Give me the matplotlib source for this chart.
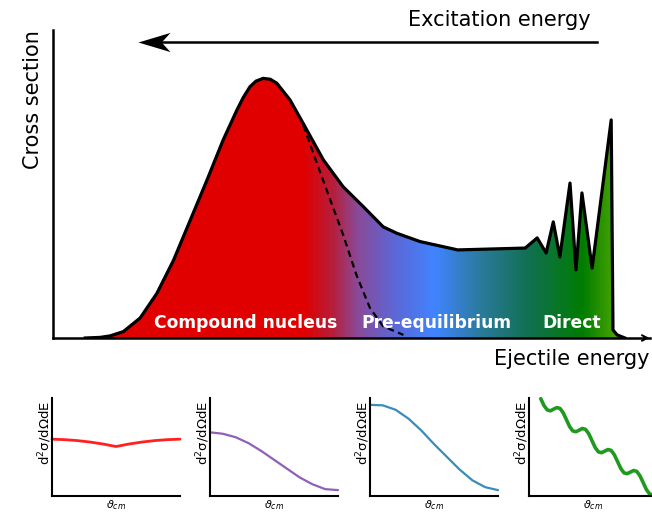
import numpy as np
import matplotlib.pyplot as plt
from matplotlib.colors import LinearSegmentedColormap
from matplotlib.patches import Polygon
from matplotlib.path import Path

# ---- main spectrum: ejectile energy vs cross section (arbitrary units, 0-100)
energy = [5.4, 7.9, 9.6, 11.8, 14.6, 17.4, 20.2, 23.0, 25.8, 28.5, 30.8, 31.9,
          33.0, 34.0, 35.2, 36.4, 37.5, 39.7, 41.9, 45.3, 48.6, 52.0, 55.3,
          57.6, 61.5, 67.8, 79.1, 81.1, 82.6, 83.8, 84.9, 86.6, 87.6, 88.6,
          90.3, 93.5, 93.8, 94.5, 95.8]
xsec = [0.0, 0.2, 0.7, 2.1, 6.5, 14.5, 25.3, 38.3, 51.3, 64.3, 74.0, 78.2,
        81.6, 83.4, 84.3, 84.0, 82.7, 77.3, 69.7, 57.8, 49.1, 42.6, 36.1,
        34.0, 31.3, 28.6, 29.2, 32.5, 27.6, 37.7, 26.3, 50.3, 22.1, 47.1,
        22.7, 70.8, 2.6, 1.0, 0.0]

# compound nucleus component (dashed)
cn_energy = [41.9, 43.6, 45.3, 47.0, 48.6, 50.8, 53.1, 55.3, 58.7]
cn_xsec = [69.1, 60.0, 50.9, 41.9, 33.5, 20.6, 9.7, 3.8, 1.0]

region_labels = ['Compound nucleus', 'Pre-equilibrium', 'Direct']
region_x = [32.2, 64.2, 86.8]

# ---- angular distributions (theta normalised 0-1)
theta = [0, 0.1, 0.2, 0.3, 0.4, 0.5, 0.6, 0.7, 0.8, 0.9, 1.0]
ang_cn = [0.58, 0.575, 0.565, 0.55, 0.53, 0.505, 0.53, 0.55, 0.565, 0.575, 0.58]
ang_pe_low = [0.65, 0.635, 0.60, 0.54, 0.46, 0.37, 0.28, 0.19, 0.12, 0.07, 0.06]
ang_pe_high = [0.93, 0.925, 0.88, 0.79, 0.67, 0.53, 0.40, 0.27, 0.16, 0.09, 0.06]
theta_dir = [0.092, 0.117, 0.142, 0.167, 0.192, 0.217, 0.242, 0.267, 0.292,
             0.317, 0.342, 0.367, 0.392, 0.417, 0.442, 0.467, 0.492, 0.517,
             0.542, 0.567, 0.592, 0.617, 0.642, 0.667, 0.692, 0.717, 0.742,
             0.767, 0.792, 0.817, 0.842, 0.867, 0.892, 0.917, 0.942, 0.967]
ang_dir = [0.993, 0.923, 0.879, 0.869, 0.886, 0.902, 0.894, 0.849, 0.780,
           0.709, 0.664, 0.656, 0.672, 0.689, 0.680, 0.635, 0.565, 0.495,
           0.450, 0.442, 0.458, 0.474, 0.465, 0.420, 0.351, 0.281, 0.236,
           0.228, 0.244, 0.260, 0.251, 0.206, 0.137, 0.066, 0.021, 0.013]

# colour along the energy axis
grad_stops = [(0.0, '#e00000'), (0.42, '#e00000'), (0.47, '#b4203e'),
              (0.51, '#8a4a98'), (0.57, '#5e66d4'), (0.64, '#4084ff'),
              (0.72, '#2a7a9a'), (0.80, '#107050'), (0.89, '#007d00'),
              (0.95, '#50a800'), (1.0, '#50a800')]

fig = plt.figure(figsize=(6.52, 5.12), dpi=100)
W, H = 652, 512

ax = fig.add_axes([53 / W, (H - 338) / H, 597 / W, 308 / H])
ax.set_xlim(0, 100)
ax.set_ylim(0, 100)

cmap = LinearSegmentedColormap.from_list('spec', grad_stops)
grad = np.linspace(0, 1, 600).reshape(1, -1)
im = ax.imshow(grad, extent=[0, 100, 0, 100], aspect='auto', cmap=cmap,
               origin='lower', zorder=1)
poly = Polygon(np.column_stack([energy, xsec]), closed=True,
               facecolor='none', edgecolor='none')
ax.add_patch(poly)
im.set_clip_path(poly)

ax.plot(energy, xsec, color='black', lw=2.3, solid_joinstyle='round', zorder=3)
ax.plot(cn_energy, cn_xsec, color='black', lw=1.6, ls=(0, (3, 2)), zorder=3)

for lab, xp in zip(region_labels, region_x):
    ax.text(xp, 5.0, lab, color='white', fontsize=12.3, fontweight='bold',
            ha='center', va='center', zorder=4)

for s in ['top', 'right']:
    ax.spines[s].set_visible(False)
ax.spines['left'].set_linewidth(1.8)
ax.spines['bottom'].set_linewidth(1.8)
ax.set_xticks([])
ax.set_yticks([])
ax.annotate('', xy=(100.4, 0), xytext=(98.5, 0),
            arrowprops=dict(arrowstyle='->', lw=1.4, color='black'),
            annotation_clip=False)

# excitation energy arrow with a stealth-type head
stealth = Path([(-1, 0), (1, 0.6), (0.45, 0), (1, -0.6), (-1, 0)],
               [Path.MOVETO, Path.LINETO, Path.LINETO, Path.LINETO,
                Path.CLOSEPOLY])
ax.plot([91.1, 18.0], [96.1, 96.1], color='black', lw=1.8, zorder=5)
ax.plot([16.9], [96.1], marker=stealth, markersize=23, color='black',
        markeredgewidth=0, zorder=6, clip_on=False)
ax.text(74.7, 103.2, 'Excitation energy', fontsize=15, ha='center',
        va='center', clip_on=False)
ax.text(100.0, -6.7, 'Ejectile energy', fontsize=15, ha='right',
        va='center', clip_on=False)
ax.text(-3.4, 77.3, 'Cross section', fontsize=15, rotation=90,
        ha='center', va='center', clip_on=False)

# ---- small angular distribution panels
panels = [(52, theta, ang_cn, '#ff2020', 2.0),
          (210, theta, ang_pe_low, '#9060b8', 1.6),
          (370, theta, ang_pe_high, '#3a8cbc', 1.6),
          (529, theta_dir, ang_dir, '#1f9a1f', 2.6)]
for left, tx, ty, col, lw in panels:
    pa = fig.add_axes([left / W, (H - 496) / H, 128 / W, 98 / H])
    pa.set_xlim(0, 1)
    pa.set_ylim(0, 1)
    pa.plot(tx, ty, color=col, lw=lw, solid_capstyle='round', clip_on=False)
    for s in ['top', 'right']:
        pa.spines[s].set_visible(False)
    pa.spines['left'].set_linewidth(1.5)
    pa.spines['bottom'].set_linewidth(1.5)
    pa.set_xticks([])
    pa.set_yticks([])
    pa.text(-0.055, 0.64, r'd$^2$σ/dΩdE', rotation=90, fontsize=9.5,
            ha='center', va='center', transform=pa.transAxes)
    pa.text(0.5, -0.02, r'$\vartheta_{cm}$', fontsize=8, ha='center',
            va='top', transform=pa.transAxes)

fig.savefig('out.png', dpi=100)
